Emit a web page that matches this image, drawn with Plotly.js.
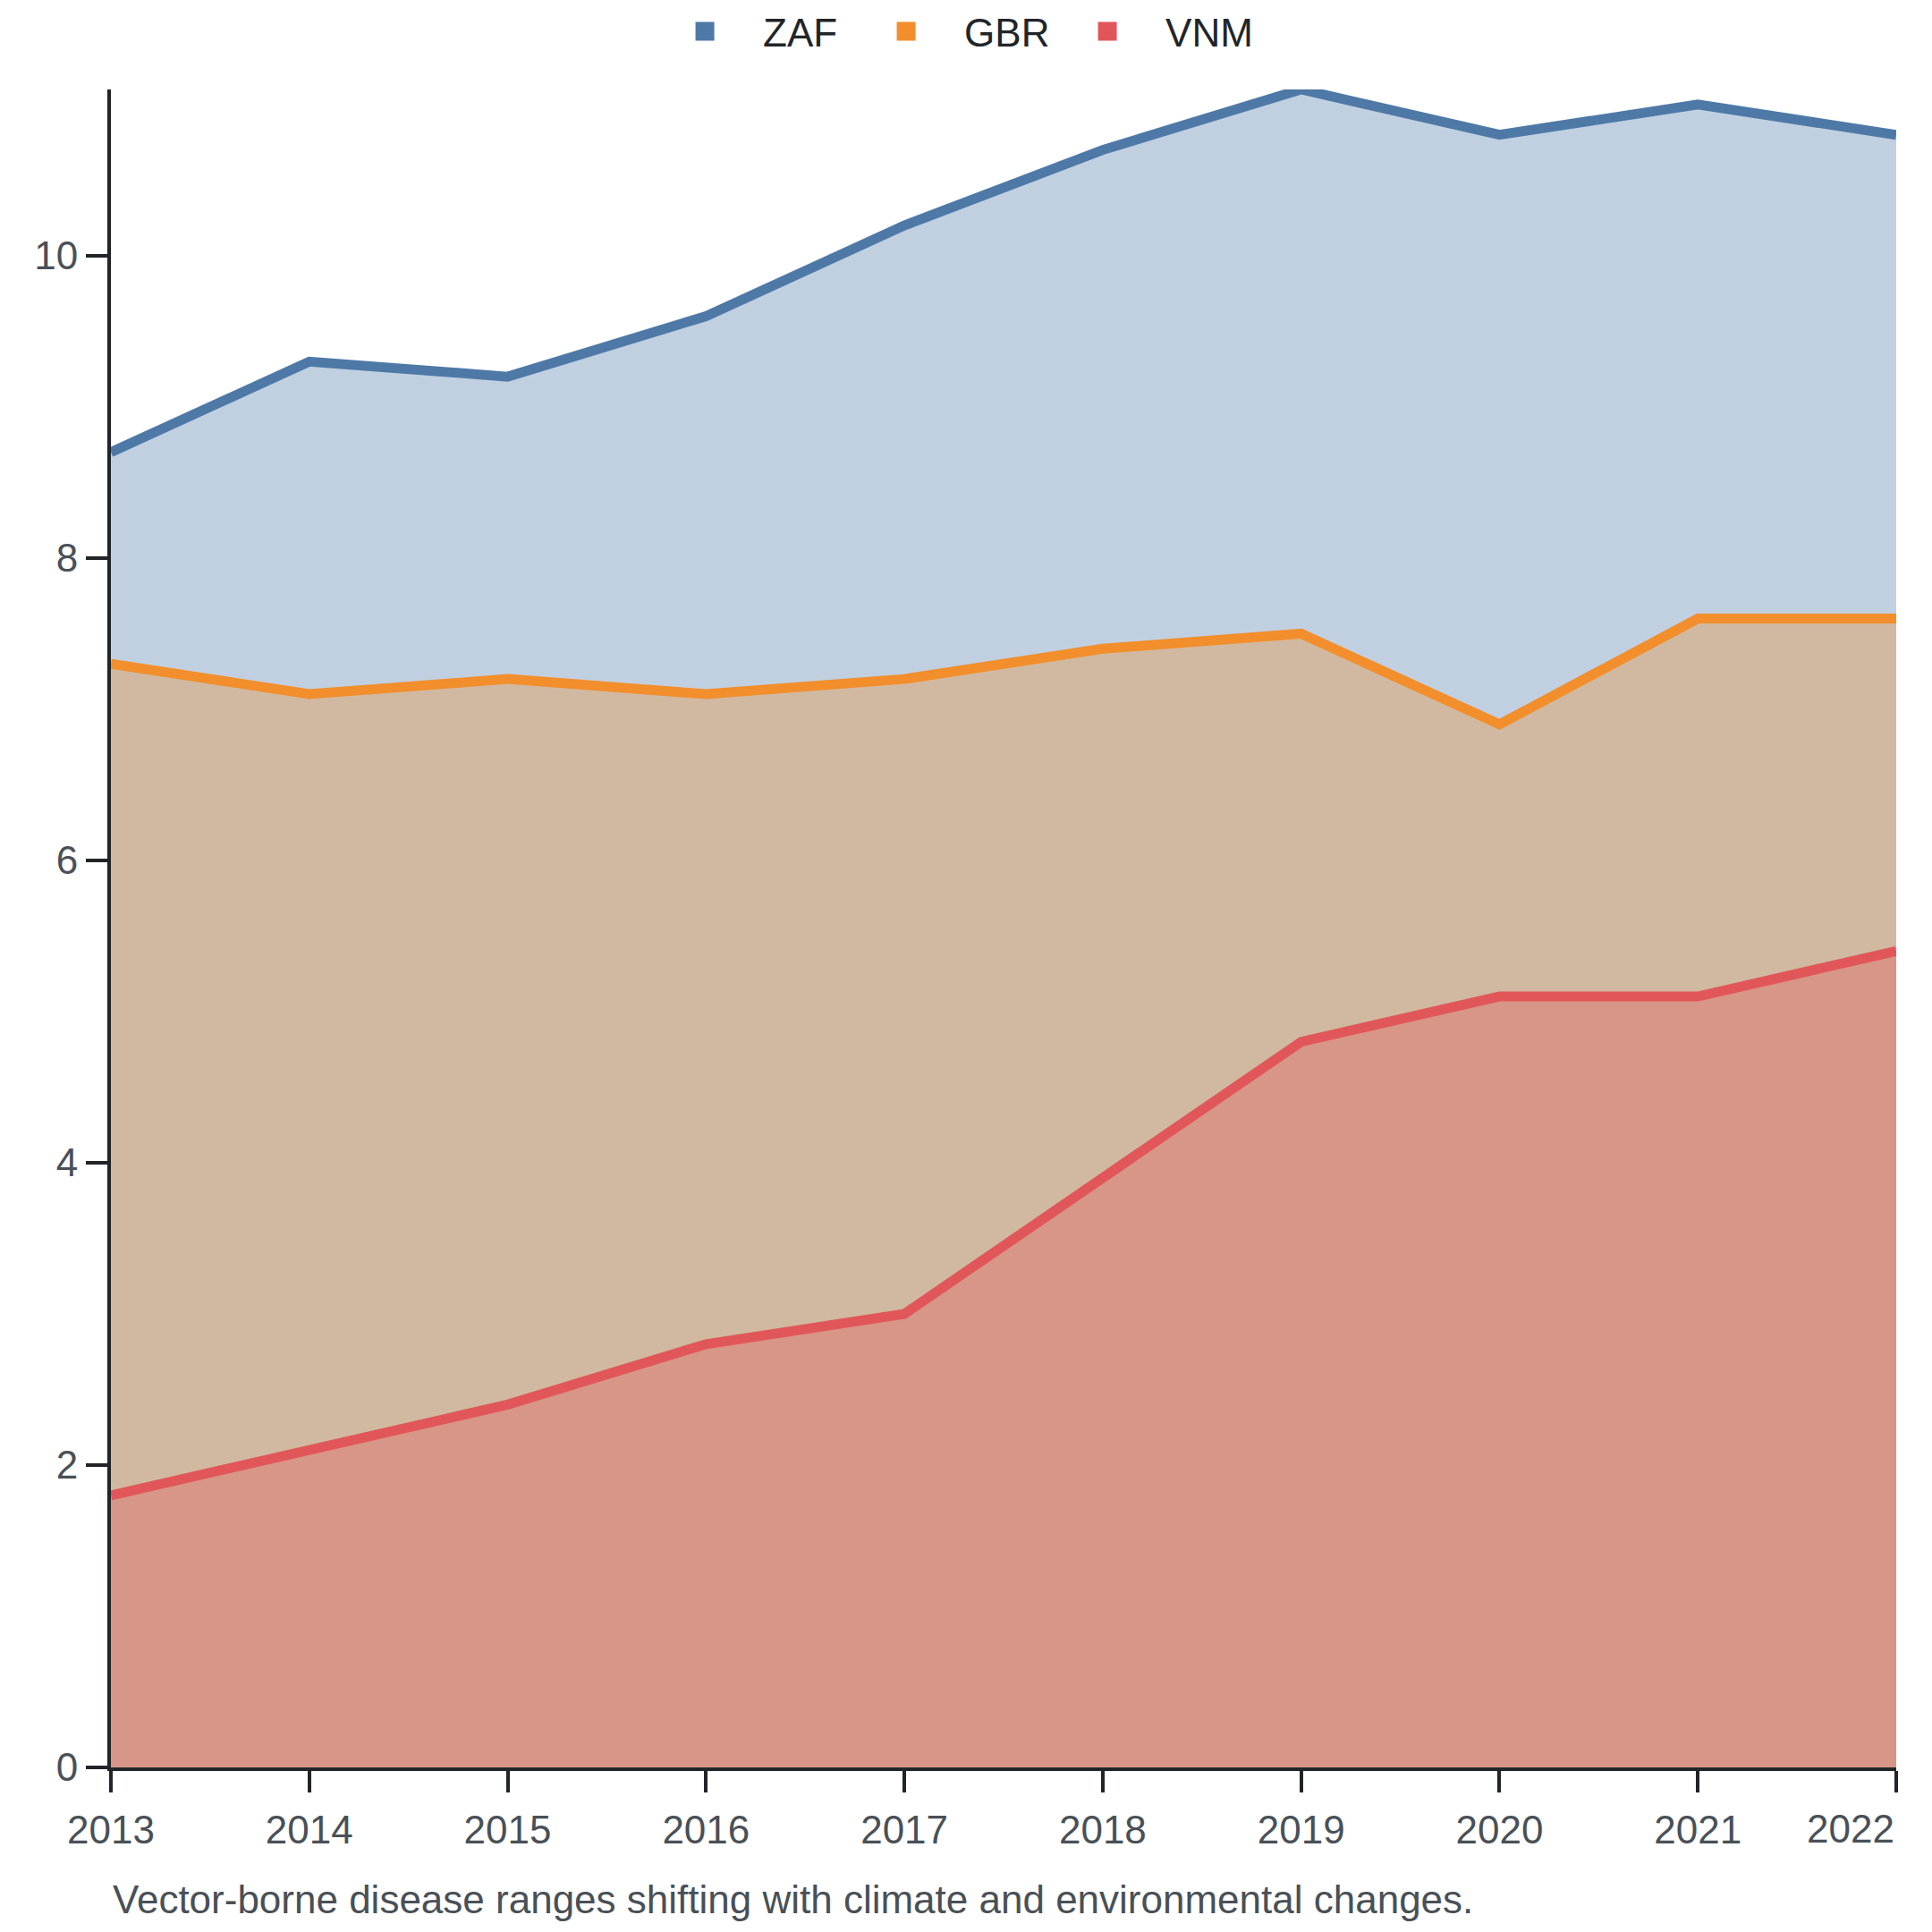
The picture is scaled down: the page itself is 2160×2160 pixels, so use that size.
<!DOCTYPE html>
<html>
<head>
<meta charset="utf-8">
<script src="https://cdn.plot.ly/plotly-3.0.1.min.js"></script>
<style>
  html, body { margin: 0; padding: 0; background: #fff; }
  #chart { width: 2160px; height: 2160px; }
</style>
</head>
<body>
<div id="chart"></div>
<script>
// values, bottom to top: VNM, GBR, ZAF
var years = [2013, 2014, 2015, 2016, 2017, 2018, 2019, 2020, 2021, 2022];
var vnm = [1.8, 2.1, 2.4, 2.8, 3.0, 3.9, 4.8, 5.1, 5.1, 5.4];
var gbr = [5.5, 5.0, 4.8, 4.3, 4.2, 3.5, 2.7, 1.8, 2.5, 2.2];
var zaf = [1.4, 2.2, 2.0, 2.5, 3.0, 3.3, 3.6, 3.9, 3.4, 3.2];
var yTicks = [0, 2, 4, 6, 8, 10];
var caption = 'Vector-borne disease ranges shifting with climate and environmental changes.';

var FONT = '"Liberation Sans", Arial, sans-serif';

function drawChart() {
	// running totals so every area is filled down to zero (the fills overlap)
	var cumVnm = [], cumGbr = [], cumZaf = [];
	for (var i = 0; i < years.length; i++) {
		var a = vnm[i];
		var b = a + gbr[i];
		var c = b + zaf[i];
		cumVnm.push(+a.toFixed(2));
		cumGbr.push(+b.toFixed(2));
		cumZaf.push(+c.toFixed(2));
	}

	var series = [
		{ name: 'ZAF', y: cumZaf, color: '#4e79a7', fill: 'rgba(78,121,167,0.35)' },
		{ name: 'GBR', y: cumGbr, color: '#f28e2b', fill: 'rgba(242,142,43,0.35)' },
		{ name: 'VNM', y: cumVnm, color: '#e15759', fill: 'rgba(225,87,89,0.35)' }
	];

	var data = [];
	series.forEach(function(s) {
		data.push({
			x: years,
			y: s.y,
			type: 'scatter',
			mode: 'lines',
			fill: 'tozeroy',
			fillcolor: s.fill,
			line: { color: s.color, width: 11 },
			showlegend: false,
			hoverinfo: 'skip'
		});
	});
	// legend entries as solid squares
	series.forEach(function(s) {
		data.push({
			x: [null],
			y: [null],
			type: 'scatter',
			mode: 'markers',
			name: s.name,
			marker: { symbol: 'square', size: 16, color: s.color, line: { color: s.color, width: 5 } },
			showlegend: true
		});
	});

	// last year label sits flush with the right edge
	var xLabels = years.map(function(y, i) { return i === years.length - 1 ? '' : String(y); });

	var layout = {
		width: 2160,
		height: 2160,
		paper_bgcolor: '#ffffff',
		plot_bgcolor: '#ffffff',
		margin: { l: 124, r: 40, t: 100, b: 184 },
		font: { family: FONT, size: 44, color: '#495057' },
		showlegend: true,
		legend: {
			orientation: 'h',
			xref: 'container',
			yref: 'container',
			x: 0.491,
			xanchor: 'center',
			y: 1,
			yanchor: 'top',
			itemwidth: 120,
			font: { family: FONT, size: 44, color: '#212529' },
			entrywidth: 90,
			traceorder: 'normal'
		},
		xaxis: {
			range: [years[0], years[years.length - 1]],
			tickmode: 'array',
			tickvals: years,
			ticktext: xLabels,
			ticks: 'outside',
			ticklen: 24,
			tickwidth: 4,
			tickcolor: '#212529',
			ticklabelstandoff: 4,
			showline: true,
			linewidth: 4,
			linecolor: '#212529',
			showgrid: false,
			zeroline: false,
			tickfont: { family: FONT, size: 44, color: '#495057' }
		},
		yaxis: {
			range: [0, 11.1],
			tickmode: 'array',
			tickvals: yTicks,
			ticks: 'outside',
			ticklen: 24,
			tickwidth: 4,
			tickcolor: '#212529',
			showline: true,
			linewidth: 4,
			linecolor: '#212529',
			showgrid: false,
			zeroline: false,
			tickfont: { family: FONT, size: 44, color: '#495057' }
		},
		annotations: [
			{
				x: years[years.length - 1],
				xref: 'x',
				y: 0,
				yref: 'paper',
				yshift: -68,
				xanchor: 'right',
				yanchor: 'middle',
				showarrow: false,
				text: String(years[years.length - 1]),
				font: { family: FONT, size: 44, color: '#495057' }
			},
			{
				x: 0,
				xref: 'paper',
				y: 0,
				yref: 'paper',
				yshift: -147,
				xanchor: 'left',
				yanchor: 'middle',
				showarrow: false,
				text: caption,
				font: { family: FONT, size: 44, color: '#495057' }
			}
		]
	};

	Plotly.newPlot('chart', data, layout, { displayModeBar: false, staticPlot: true });
}

window.onload = drawChart;
</script>
</body>
</html>
